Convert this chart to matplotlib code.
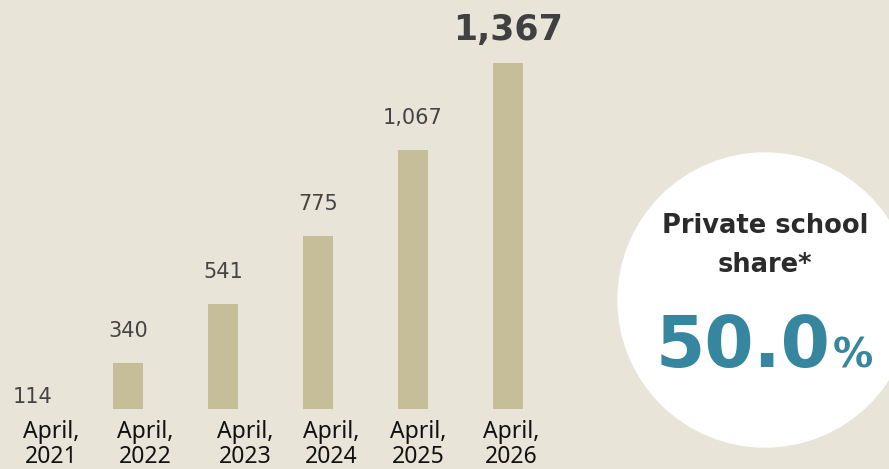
import matplotlib.pyplot as plt
from matplotlib.patches import Circle
from matplotlib.transforms import blended_transform_factory

# data
years = ['2021', '2022', '2023', '2024', '2025', '2026']
counts = [114, 340, 541, 775, 1067, 1367]
share_value = '50.0'
share_title = ['Private school', 'share*']

bg = '#e8e4d8'
bar_color = '#c5be98'
teal = '#35869e'

fig = plt.figure(figsize=(8.89, 4.69), dpi=100)
fig.patch.set_facecolor(bg)

# main bar axes: bottom edge sits at the bar baseline (y=409 px)
ax = fig.add_axes([0, 60 / 469, 1, 409 / 469])
ax.set_facecolor(bg)
x = list(range(len(years)))
ax.bar(x, counts, width=0.316, color=bar_color)
ax.set_xlim(-0.347, 9.01)
ax.set_ylim(181.5, 1582)
ax.axis('off')

# value labels above the bars (offset in pixels -> points)
for i, v in enumerate(counts):
    last = i == len(counts) - 1
    ax.annotate(f'{v:,}', (i, v), xytext=(0, (23 if last else 26) * 0.72),
                textcoords='offset points', ha='center', va='baseline',
                fontsize=25 if last else 15,
                fontweight='bold' if last else 'normal',
                color='#404040' if last else '#444444',
                family='DejaVu Sans', annotation_clip=False)

# overlay in pixel coordinates for the circle badge and bottom labels
ov = fig.add_axes([0, 0, 1, 1])
ov.set_xlim(0, 889)
ov.set_ylim(469, 0)
ov.axis('off')
ov.patch.set_alpha(0)

# category labels below the axis, nudged a bit right like the original
nudge = [0.19, 0.18, 0.23, 0.14, 0.05, 0.03]
tr = blended_transform_factory(ax.transData, ov.transData)
for i, yr in enumerate(years):
    ov.text(i + nudge[i], 463, f'April,\n{yr}', ha='center', va='baseline',
            fontsize=16.5, family='Noto Sans', color='#111111',
            linespacing=1.05, transform=tr)

ov.add_patch(Circle((765, 300), 147, color='white', zorder=1))
for line, base in zip(share_title, [233, 272]):
    ov.text(765, base, line, ha='center', va='baseline', fontsize=18.5,
            fontweight='bold', family='DejaVu Sans', color='#2b2b2b', zorder=2)
ov.text(830, 367, share_value, ha='right', va='baseline', fontsize=51,
        fontweight='bold', family='DejaVu Sans', color=teal, zorder=2)
ov.text(833, 367, '%', ha='left', va='baseline', fontsize=29,
        fontweight='bold', family='DejaVu Sans', color=teal, zorder=2)

fig.savefig('out.png', dpi=100, facecolor=bg)
